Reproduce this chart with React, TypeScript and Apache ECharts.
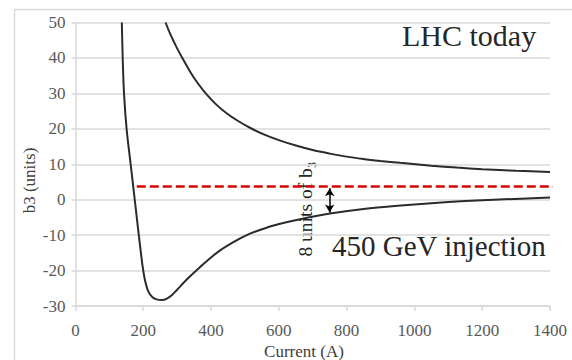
import { useEffect, useRef } from "react";
import * as echarts from "echarts";

// Upper curve: "LHC today"
const upperCurrent = [266, 280, 299, 320, 338, 360, 387, 415, 446, 480, 515, 554, 600, 653, 700, 751, 800, 849, 900, 958, 1050, 1125, 1200, 1300, 1400];
const upperB3 = [50, 46.7, 42.9, 39.2, 36.2, 33.0, 29.7, 26.9, 24.4, 22.2, 20.3, 18.5, 16.8, 15.2, 14.0, 13.0, 12.15, 11.5, 10.95, 10.4, 9.6, 9.05, 8.6, 8.15, 7.8];

// Lower curve: "450 GeV injection"
const lowerCurrent = [137, 139.5, 143.4, 151, 163, 175, 187, 193, 198, 205, 215, 228, 242, 255, 270, 285, 300, 330, 368, 417, 466, 515, 564, 613, 663, 751, 850, 950, 1050, 1150, 1250, 1400];
const lowerB3 = [50, 40, 30, 20, 10, 0, -10, -14.8, -18.6, -22.6, -25.9, -27.6, -28.2, -28.3, -27.9, -26.9, -25.4, -22.4, -19.0, -15.0, -12.0, -9.6, -7.9, -6.6, -5.5, -3.9, -2.6, -1.7, -1.0, -0.4, 0.05, 0.6];

// Red dashed reference level
const levelCurrent = [181, 1450];
const levelB3 = [3.7, 3.7];

// "8 units of b3" arrow
const arrowCurrent = 750;
const arrowB3 = [3.2, -3.6];

const xTickLabels = ["0", "200", "400", "600", "800", "1000", "1200", "1400"];

const FONT = "Liberation Serif";
const GRID = "#d9d9d9";

export default function App() {
  const ref = useRef<HTMLDivElement>(null);
  useEffect(() => {
    if (!ref.current) return;
    const chart = echarts.init(ref.current, null, { renderer: "svg" });
    chart.setOption({
      animation: false,
      backgroundColor: "#ffffff",
      grid: { left: 75.4, right: 22, top: 22.5, bottom: 54 },
      xAxis: {
        type: "value",
        min: 0,
        max: 1400,
        interval: 200,
        axisLine: { show: true, onZero: false, lineStyle: { color: GRID, width: 1.5 } },
        axisTick: { show: true, length: 5, lineStyle: { color: GRID, width: 1.5 } },
        axisLabel: {
          fontFamily: FONT,
          fontSize: 17,
          color: "#595959",
          margin: 16,
          formatter: (v: number) => xTickLabels[Math.round(v / 200)] ?? String(v),
        },
        splitLine: { show: false },
      },
      yAxis: {
        type: "value",
        min: -30,
        max: 50,
        interval: 10,
        axisLine: { show: true, onZero: false, lineStyle: { color: GRID, width: 1.5 } },
        axisTick: { show: true, length: 4, lineStyle: { color: GRID, width: 1.5 } },
        axisLabel: { fontFamily: FONT, fontSize: 17, color: "#595959", margin: 10 },
        splitLine: { show: true, lineStyle: { color: GRID, width: 1.5 } },
      },
      series: [
        {
          name: "LHC today",
          type: "line",
          data: upperCurrent.map((x, i) => [x, upperB3[i]]),
          showSymbol: false,
          symbol: "none",
          smooth: 0.3,
          lineStyle: { color: "#2b2b2b", width: 2 },
        },
        {
          name: "450 GeV injection",
          type: "line",
          data: lowerCurrent.map((x, i) => [x, lowerB3[i]]),
          showSymbol: false,
          symbol: "none",
          smooth: 0.3,
          lineStyle: { color: "#2b2b2b", width: 2 },
        },
        {
          name: "level",
          type: "line",
          clip: false,
          data: levelCurrent.map((x, i) => [x, levelB3[i]]),
          showSymbol: false,
          symbol: "none",
          lineStyle: { color: "#d60000", width: 2.5, type: [9, 4] },
          z: 3,
          markLine: {
            silent: true,
            symbol: ["arrow", "arrow"],
            symbolSize: [7, 8],
            label: { show: false },
            lineStyle: { color: "#000000", width: 1.5, type: "solid" },
            data: [[{ coord: [arrowCurrent, arrowB3[0]] }, { coord: [arrowCurrent, arrowB3[1]] }]],
          },
        },
      ],
      graphic: [
        {
          type: "rect",
          shape: { x: 14.5, y: 9.5, width: 620, height: 420 },
          style: { fill: "none", stroke: GRID, lineWidth: 1.5 },
          silent: true,
        },
        {
          type: "text",
          x: 402,
          y: 35,
          style: { text: "LHC today", fontFamily: FONT, fontSize: 30, fill: "#262626", align: "left", verticalAlign: "middle" },
        },
        {
          type: "text",
          x: 332,
          y: 246,
          style: { text: "450 GeV injection", fontFamily: FONT, fontSize: 29, fill: "#262626", align: "left", verticalAlign: "middle" },
        },
        {
          type: "text",
          x: 305,
          y: 209,
          rotation: Math.PI / 2,
          style: { text: "8 units of b₃", fontFamily: FONT, fontSize: 19.5, fill: "#262626", align: "center", verticalAlign: "middle" },
        },
        {
          type: "text",
          x: 29.5,
          y: 180.5,
          rotation: Math.PI / 2,
          style: { text: "b3 (units)", fontFamily: FONT, fontSize: 17, fill: "#404040", align: "center", verticalAlign: "middle" },
        },
        {
          type: "text",
          x: 304,
          y: 343,
          style: { text: "Current (A)", fontFamily: FONT, fontSize: 17, fill: "#404040", align: "center", verticalAlign: "top" },
        },
      ],
    });
    return () => chart.dispose();
  }, []);
  return <div ref={ref} style={{ position: "fixed", left: 0, top: 0, width: 572, height: 360 }} />;
}
